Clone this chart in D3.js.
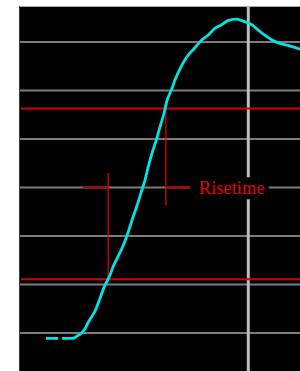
<!DOCTYPE html>
<html>
<head>
<meta charset="utf-8">
<script src="https://cdn.jsdelivr.net/npm/d3@7"></script>
<style>
  body { margin: 0; background: #fff; }
  svg { display: block; }
</style>
</head>
<body>
<svg id="chart"></svg>
<script>
// time in ns (0 = cursor), amplitude in mV
const gridLevels = [0, 100, 200, 300, 400, 500, 600];
const cursorTimes = [0];
const waveTime = [-41.7, -39.2, -38.8, -38.4, -36.1, -35.3, -34.5, -33.7, -33.1, -32.2, -31.6, -31.0, -30.4,
  -29.8, -29.1, -28.5, -27.9, -27.1, -26.2, -25.4, -24.6, -23.8, -22.9, -22.1, -21.3, -20.7, -19.9,
  -19.0, -18.2, -17.4, -16.8, -15.7, -15.1, -14.3, -13.5, -12.4, -11.0, -9.6, -8.3, -6.9, -5.4,
  -4.2, -2.5, -1.1, 0.8, 2.0, 3.4, 4.9, 6.5, 8.2, 10.7];
const waveMv = [-11, -11, null, -11, -11, -6, -1, 8, 20, 35, 45, 60, 76,
  93, 107, 120, 136, 153, 171, 190, 213, 238, 264, 290, 315, 340, 369,
  397, 425, 452, 478, 505, 522, 540, 556, 573, 588, 604, 614, 628, 636,
  644, 647, 643, 635, 625, 614, 604, 597, 593, 585];
const refLevels = [111, 463];          // low / high reference
const crossTimes = [-28.9, -17.0];     // where the wave crosses them
const markerEnds = [330, 264];         // vertical marker extents
const markerLevel = 300;
const markerSpan = [-34.1, -12.0];
const labelText = 'Risetime';
const labelPos = [-10.2, 286];

const W = 300, H = 371;
const svg = d3.select('#chart').attr('width', W).attr('height', H);

const plot = { left: 19, top: 6, right: 300, bottom: 371 };

const x = d3.scaleLinear().domain([-47.28, 10.66]).range([plot.left, plot.right]);
const y = d3.scaleLinear().domain([-78.4, 674.2]).range([plot.bottom, plot.top]);

svg.append('rect')
  .attr('x', plot.left).attr('y', plot.top)
  .attr('width', plot.right - plot.left).attr('height', plot.bottom - plot.top)
  .attr('fill', '#000');

svg.append('line')
  .attr('x1', plot.left).attr('x2', plot.right)
  .attr('y1', plot.top + 0.5).attr('y2', plot.top + 0.5)
  .attr('stroke', '#a8a8a8').attr('stroke-width', 1);
svg.append('line')
  .attr('x1', plot.left + 0.5).attr('x2', plot.left + 0.5)
  .attr('y1', plot.top).attr('y2', plot.bottom)
  .attr('stroke', '#3a3a3a').attr('stroke-width', 1);

// grid
svg.append('g')
  .selectAll('line')
  .data(gridLevels)
  .join('line')
  .attr('x1', plot.left + 1).attr('x2', plot.right)
  .attr('y1', d => y(d)).attr('y2', d => y(d))
  .attr('stroke', '#7c7c7c').attr('stroke-width', 2);

svg.append('g')
  .selectAll('line')
  .data(cursorTimes)
  .join('line')
  .attr('x1', d => x(d)).attr('x2', d => x(d))
  .attr('y1', plot.top).attr('y2', plot.bottom)
  .attr('stroke', '#bdbdbd').attr('stroke-width', 3);

// reference levels
svg.append('g')
  .selectAll('line')
  .data(refLevels)
  .join('line')
  .attr('x1', plot.left + 2).attr('x2', plot.right)
  .attr('y1', d => y(d)).attr('y2', d => y(d))
  .attr('stroke', '#d80000').attr('stroke-width', 2);

// markers
svg.append('g')
  .selectAll('line')
  .data(crossTimes)
  .join('line')
  .attr('x1', d => x(d)).attr('x2', d => x(d))
  .attr('y1', (d, i) => y(refLevels[i])).attr('y2', (d, i) => y(markerEnds[i]))
  .attr('stroke', '#f00000').attr('stroke-width', 1.2);

svg.append('line')
  .attr('x1', x(markerSpan[0])).attr('x2', x(crossTimes[0]))
  .attr('y1', y(markerLevel)).attr('y2', y(markerLevel))
  .attr('stroke', '#b00000').attr('stroke-width', 2);
svg.append('line')
  .attr('x1', x(crossTimes[1])).attr('x2', x(markerSpan[1]))
  .attr('y1', y(markerLevel)).attr('y2', y(markerLevel))
  .attr('stroke', '#b00000').attr('stroke-width', 2);

// label with black box
const labelBox = svg.append('rect').attr('fill', '#000');
const label = svg.append('text')
  .attr('x', x(labelPos[0])).attr('y', y(labelPos[1]))
  .attr('font-family', '"Liberation Serif", "Times New Roman", serif')
  .attr('font-size', 18.5)
  .attr('fill', '#e80000')
  .text(labelText);
const bb = label.node().getBBox();
labelBox
  .attr('x', x(markerSpan[1])).attr('y', bb.y - 1)
  .attr('width', bb.x + bb.width + 4 - x(markerSpan[1]))
  .attr('height', bb.height + 2);

// waveform
const line = d3.line()
  .defined(d => d[1] !== null)
  .curve(d3.curveMonotoneX)
  .x(d => x(d[0]))
  .y(d => y(d[1]));

svg.append('path')
  .datum(waveTime.map((t, i) => [t, waveMv[i]]))
  .attr('fill', 'none')
  .attr('stroke', '#00e4e4')
  .attr('stroke-width', 2.8)
  .attr('d', line);
</script>
</body>
</html>
